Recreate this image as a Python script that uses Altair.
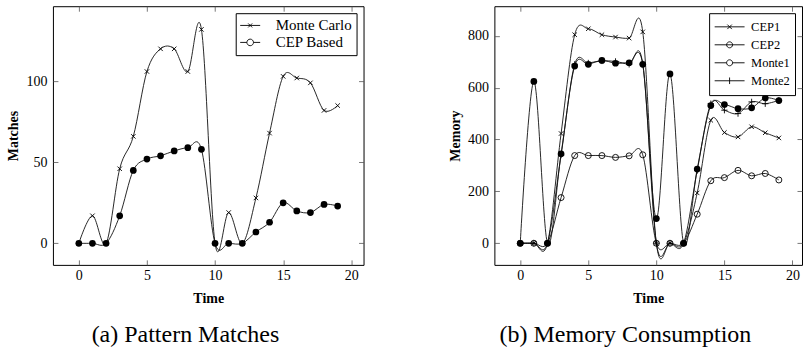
import altair as alt
import pandas as pd

# ---------------- data ----------------
time = list(range(20))

# (a) Pattern Matches
monte_carlo = [0, 17, 0, 46, 66, 106, 120, 120, 106, 132, 0, 19, 0, 28, 68, 103, 102, 99, 82, 85]
cep_based = [0, 0, 0, 17, 45, 52, 54, 57, 59, 58, 0, 0, 0, 7, 13, 25, 20, 19, 24, 23]

# (b) Memory Consumption
cep1 = [0, 0, 0, 423, 804, 827, 804, 795, 791, 815, 0, 0, 0, 194, 474, 427, 410, 449, 426, 406]
cep2 = [0, 0, 0, 176, 338, 338, 338, 331, 337, 341, 0, 0, 0, 112, 241, 253, 281, 260, 269, 244]
monte1 = [0, 624, 0, 345, 683, 690, 705, 694, 696, 690, 95, 653, 0, 286, 531, 535, 519, 522, 560, 550]
monte2 = [0, 0, 0, 340, 690, 695, 703, 701, 690, 692, 0, 0, 0, 280, 538, 513, 500, 545, 538, 551]

left_names = ["Monte Carlo", "CEP Based"]
right_names = ["CEP1", "CEP2", "Monte1", "Monte2"]

x_ticks = [0, 5, 10, 15, 20]
left_y_ticks = [0, 50, 100]
right_y_ticks = [0, 200, 400, 600, 800]


def long_df(names, series):
    rows = []
    for n, vals in zip(names, series):
        for t, v in zip(time, vals):
            rows.append({"Time": t, "Value": v, "Series": n})
    return pd.DataFrame(rows)


left_df = long_df(left_names, [monte_carlo, cep_based])
right_df = long_df(right_names, [cep1, cep2, monte1, monte2])

FONT = "Liberation Serif"
XPATH = "M-1,-1L1,1M-1,1L1,-1"
PLUS = "M-1,0L1,0M0,-1L0,1"
TICK = 5


def axes_set(title_x, title_y, x_vals, y_vals):
    common = dict(labelFont=FONT, labelFontSize=14, labelColor="black",
                  titleFont=FONT, titleFontSize=14, titleFontWeight="bold", titleColor="black")
    lab_x = alt.Axis(orient="bottom", values=x_vals, title=title_x, ticks=False, tickSize=0,
                     domain=False, grid=False, labelPadding=4, titlePadding=9, **common)
    lab_y = alt.Axis(orient="left", values=y_vals, title=title_y, ticks=False, tickSize=0,
                     domain=False, grid=False, labelPadding=6, titlePadding=5, **common)
    tb = alt.Axis(orient="bottom", values=x_vals, title=None, labels=False, domain=False,
                  grid=False, ticks=True, tickSize=TICK, offset=-TICK)
    tl = alt.Axis(orient="left", values=y_vals, title=None, labels=False, domain=False,
                  grid=False, ticks=True, tickSize=TICK, offset=-TICK)
    tt = alt.Axis(orient="top", values=x_vals, title=None, labels=False, domain=False,
                  grid=False, ticks=True, tickSize=TICK, offset=-TICK)
    tr = alt.Axis(orient="right", values=y_vals, title=None, labels=False, domain=False,
                  grid=False, ticks=True, tickSize=TICK, offset=-TICK)
    return [(lab_x, lab_y), (tb, tl), (tt, tr)]


def panel(df, names, markers, legend_paths, legend_opts, xdom, ydom, y_vals, ytitle,
          caption, width, height):
    xs = alt.Scale(domain=xdom, nice=False, zero=False)
    ys = alt.Scale(domain=ydom, nice=False, zero=False)
    axes = axes_set("Time", ytitle, x_ticks, y_vals)
    base = alt.Chart(df)

    layers = []
    line = base.mark_line(interpolate="cardinal", color="#111", strokeWidth=0.9).encode(
        x=alt.X("Time:Q", scale=xs, axis=axes[0][0]),
        y=alt.Y("Value:Q", scale=ys, axis=axes[0][1]),
        detail="Series:N",
    )
    layers.append(line)

    for i, (name, mk) in enumerate(zip(names, markers)):
        if i + 1 < len(axes):
            ax, ay = axes[i + 1]
        else:
            ax, ay = None, None
        shape, size, filled = mk
        pt = base.mark_point(shape=shape, size=size, filled=filled, color="black",
                             opacity=1, strokeWidth=0.9).encode(
            x=alt.X("Time:Q", scale=xs, axis=ax),
            y=alt.Y("Value:Q", scale=ys, axis=ay),
        ).transform_filter(alt.datum.Series == name)
        layers.append(pt)

    leg = base.mark_point(color="black", opacity=1, strokeWidth=0.9).encode(
        shape=alt.Shape("Series:N", scale=alt.Scale(domain=names, range=legend_paths),
                        legend=alt.Legend(title=None, orient="top-right", strokeColor="black",
                                          fillColor="white", labelFont=FONT, labelColor="black",
                                          labelAlign="left", symbolStrokeColor="black",
                                          symbolStrokeWidth=0.9, rowPadding=0,
                                          **legend_opts)),
    ).transform_filter("datum.Time < -100")
    layers.append(leg)

    return alt.layer(*layers).resolve_axis(x="independent", y="independent").properties(
        width=width, height=height,
        title=alt.TitleParams(caption, orient="bottom", anchor="middle", frame="bounds",
                              font=FONT, fontSize=24, fontWeight="normal", color="black",
                              baseline="top", offset=17),
    )


left = panel(
    left_df, left_names,
    [(XPATH, 20, False), ("circle", 45, True)],
    ["M-1,0L1,0M-0.2,-0.2L0.2,0.2M-0.2,0.2L0.2,-0.2",
     "M-1,0L-0.33,0M0.33,0L1,0M-0.33,0A0.33,0.33,0,1,1,0.33,0A0.33,0.33,0,1,1,-0.33,0"],
    dict(symbolSize=400, labelFontSize=15, labelOffset=15, padding=4, clipHeight=16.5, offset=7),
    [-1.9, 20.9], [-13.3, 146.3], left_y_ticks, "Matches",
    "(a) Pattern Matches", 311, 259,
)

right = panel(
    right_df, right_names,
    [(XPATH, 20, False), ("circle", 36, False), ("circle", 45, True), (PLUS, 40, False)],
    ["M-1,0L1,0M-0.15,-0.15L0.15,0.15M-0.15,0.15L0.15,-0.15",
     "M-1,0L1,0M-0.2,0A0.2,0.2,0,1,1,0.2,0A0.2,0.2,0,1,1,-0.2,0",
     "M-1,0L-0.2,0M0.2,0L1,0M-0.2,0A0.2,0.2,0,1,1,0.2,0A0.2,0.2,0,1,1,-0.2,0",
     "M-1,0L1,0M0,-0.22L0,0.22"],
    dict(symbolSize=900, labelFontSize=12.5, labelOffset=6, padding=5, clipHeight=17.3, offset=7),
    [-1.9, 20.7], [-83.5, 914], right_y_ticks, "Memory",
    "(b) Memory Consumption", 308, 259,
)

chart = alt.hconcat(left, right, spacing=83).resolve_scale(shape="independent").configure(
    padding={"left": 6, "top": 5, "right": 0, "bottom": 0},
    background="white",
    font=FONT,
).configure_view(stroke="black", strokeWidth=1).configure_axis(
    labelFont=FONT, labelFontSize=14, labelColor="black",
    titleFont=FONT, titleFontSize=14, titleFontWeight="bold", titleColor="black",
    tickColor="#555", tickWidth=0.8,
).configure_title(font=FONT).configure_legend(labelFont=FONT)

chart.save("out.html", embed_options={"renderer": "svg", "actions": False})
